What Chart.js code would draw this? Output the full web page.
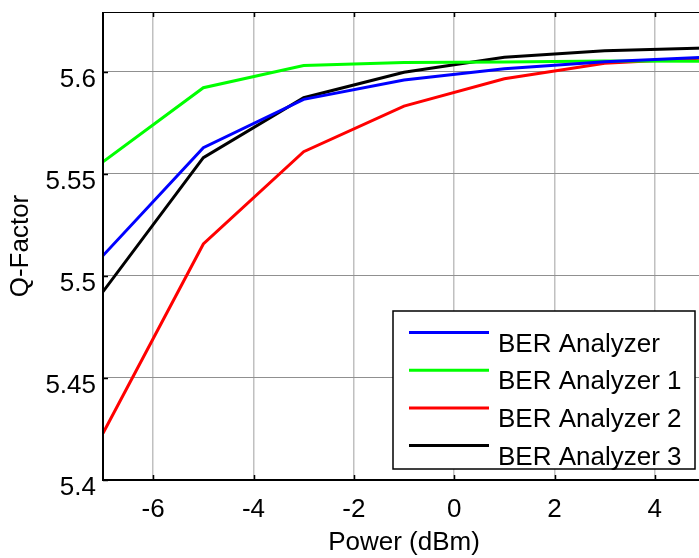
<!DOCTYPE html>
<html>
<head>
<meta charset="utf-8">
<script src="https://cdn.jsdelivr.net/npm/chart.js@4/dist/chart.umd.min.js"></script>
<style>
  html, body { margin: 0; padding: 0; background: #ffffff; overflow: hidden; }
  #wrap { width: 706px; height: 558px; }
</style>
</head>
<body>
<div id="wrap"><canvas id="c" width="706" height="558"></canvas></div>
<script>
// ---- data ----
const powerDbm = [-7, -5, -3, -1, 1, 3, 5];
const berAnalyzer  = [5.5100, 5.5629, 5.5866, 5.5961, 5.6016, 5.6050, 5.6072];
const berAnalyzer1 = [5.5560, 5.5923, 5.6032, 5.6046, 5.6049, 5.6054, 5.6052];
const berAnalyzer2 = [5.4229, 5.5157, 5.5609, 5.5833, 5.5967, 5.6043, 5.6069];
const berAnalyzer3 = [5.4923, 5.5580, 5.5874, 5.5999, 5.6072, 5.6104, 5.6117];
const seriesLabels = ['BER Analyzer', 'BER Analyzer 1', 'BER Analyzer 2', 'BER Analyzer 3'];
const seriesColors = ['#0000ff', '#00ff00', '#ff0000', '#000000'];
const xTickValues = [-6, -4, -2, 0, 2, 4];
const yTickValues = [5.4, 5.45, 5.5, 5.55, 5.6];
const yTickLabels = ['5.4', '5.45', '5.5', '5.55', '5.6'];
const xTitle = 'Power (dBm)';
const yTitle = 'Q-Factor';

const FONT = "'Liberation Sans', Arial, sans-serif";
const seriesValues = [berAnalyzer, berAnalyzer1, berAnalyzer2, berAnalyzer3];

const datasets = seriesValues.map((vals, i) => ({
  label: seriesLabels[i],
  data: powerDbm.map((x, j) => ({ x: x, y: vals[j] })),
  borderColor: seriesColors[i],
  backgroundColor: seriesColors[i],
  borderWidth: 3,
  pointRadius: 0,
  tension: 0,
  fill: false
}));

// axes box, inner ticks, legend
const matlabPlugin = {
  id: 'matlab',
  afterDatasetsDraw(chart) {
    const ctx = chart.ctx;
    const a = chart.chartArea;
    const xs = chart.scales.x, ys = chart.scales.y;
    ctx.save();
    // ticks
    ctx.strokeStyle = '#000';
    ctx.lineWidth = 1.5;
    xTickValues.forEach(v => {
      const px = Math.round(xs.getPixelForValue(v)) + 0.5;
      ctx.beginPath();
      ctx.moveTo(px, a.bottom); ctx.lineTo(px, a.bottom - 5);
      ctx.moveTo(px, a.top); ctx.lineTo(px, a.top + 5);
      ctx.stroke();
    });
    yTickValues.forEach(v => {
      const py = Math.round(ys.getPixelForValue(v)) + 0.5;
      ctx.beginPath();
      ctx.moveTo(a.left, py); ctx.lineTo(a.left + 5, py);
      ctx.stroke();
    });
    // box
    ctx.lineWidth = 1.2;
    ctx.beginPath();
    ctx.moveTo(a.left, a.top + 0.5); ctx.lineTo(a.right, a.top + 0.5);
    ctx.stroke();
    ctx.lineWidth = 2;
    ctx.beginPath();
    ctx.moveTo(a.left, a.top); ctx.lineTo(a.left, a.bottom); ctx.lineTo(a.right, a.bottom);
    ctx.stroke();

    // legend
    const lx = 393, ly = 311, lw = 302, lh = 158;
    ctx.fillStyle = '#fff';
    ctx.fillRect(lx, ly, lw, lh);
    ctx.lineWidth = 1.5;
    ctx.strokeStyle = '#000';
    ctx.strokeRect(lx, ly, lw, lh);
    ctx.font = '26px ' + FONT;
    ctx.textBaseline = 'alphabetic';
    ctx.textAlign = 'left';
    chart.data.datasets.forEach((ds, i) => {
      const y = 332.5 + i * 37.7;
      ctx.strokeStyle = ds.borderColor;
      ctx.lineWidth = 3;
      ctx.beginPath();
      ctx.moveTo(409, y); ctx.lineTo(489, y);
      ctx.stroke();
      ctx.fillStyle = '#000';
      ctx.fillText(ds.label, 498, y + 19);
    });
    ctx.restore();
  }
};

new Chart(document.getElementById('c'), {
  type: 'line',
  data: { datasets: datasets },
  plugins: [matlabPlugin],
  options: {
    responsive: false,
    animation: false,
    layout: { padding: { top: 12, right: 1, left: 0, bottom: 0 } },
    plugins: { legend: { display: false }, tooltip: { enabled: false } },
    scales: {
      x: {
        type: 'linear',
        min: -7, max: 5,
        afterBuildTicks: s => { s.ticks = xTickValues.map(v => ({ value: v })); },
        afterFit: s => { s.height = 78; s.paddingLeft = 0; s.paddingRight = 0; },
        grid: { color: '#c0c0c0', lineWidth: 1.5, drawTicks: false },
        border: { display: false },
        ticks: { color: '#000', font: { family: FONT, size: 26 }, padding: 14, maxRotation: 0 },
        title: { display: true, text: xTitle, color: '#000', font: { family: FONT, size: 26 }, padding: { top: 0, bottom: 0 } }
      },
      y: {
        type: 'linear',
        min: 5.4, max: 5.6294,
        afterBuildTicks: s => { s.ticks = yTickValues.map(v => ({ value: v })); },
        afterFit: s => { s.width = 103; s.paddingTop = 0; s.paddingBottom = 0; },
        grid: { color: '#909090', lineWidth: 1, drawTicks: false },
        border: { display: false },
        ticks: {
          color: '#000', font: { family: FONT, size: 26 }, padding: 7, labelOffset: 8,
          callback: (v) => { const i = yTickValues.findIndex(t => Math.abs(t - v) < 1e-9); return i >= 0 ? yTickLabels[i] : ''; }
        },
        title: { display: true, text: yTitle, color: '#000', font: { family: FONT, size: 26 }, padding: { top: 5, bottom: 0 } }
      }
    }
  }
});
</script>
</body>
</html>
